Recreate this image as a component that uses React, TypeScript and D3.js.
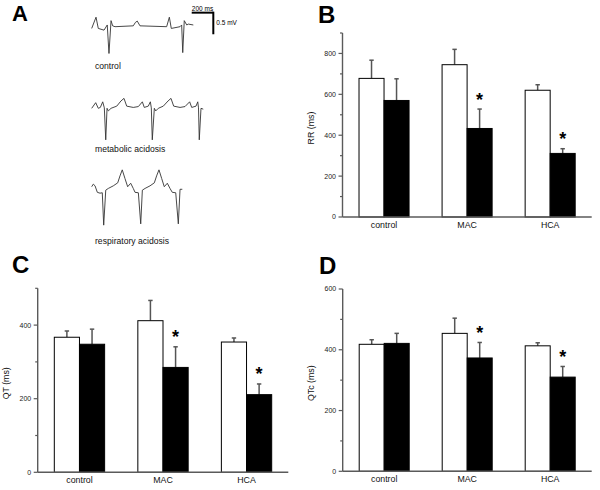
import React from "react";
import * as d3 from "d3";

// ---------- Data ----------
const categories = ["control", "MAC", "HCA"];
const conditions = ["before", "after"];

const rrBefore = [678, 745, 620];
const rrBeforeErr = [89, 75, 27];
const rrAfter = [570, 433, 311];
const rrAfterErr = [106, 95, 23];

const qtBefore = [367, 412, 354];
const qtBeforeErr = [17, 55, 11];
const qtAfter = [348, 285, 211];
const qtAfterErr = [41, 56, 29];

const qtcBefore = [418, 454, 413];
const qtcBeforeErr = [15, 50, 10];
const qtcAfter = [421, 373, 310];
const qtcAfterErr = [33, 51, 35];

const significant = [false, true, true];

const rrTicks = [0, 200, 400, 600, 800];
const qtTicks = [0, 200, 400];
const qtcTicks = [0, 200, 400, 600];

// ECG traces: [time (ms), voltage (mV)]
const controlTrace: [number, number][] = [
  [0, -0.04], [40, 0.22], [61, -0.04], [114, -0.08], [144, 0.04], [160, -0.62],
  [179, 0.14], [194, 0.02], [216, 0], [385, 0.02], [405, 0.1], [422, 0.13], [447, 0.02],
  [694, 0], [719, 0.22], [737, -0.04], [818, 0], [833, 0.04], [843, -0.6],
  [857, 0.14], [880, 0.04], [895, 0.06], [941, 0.04],
];
const metabolicTrace: [number, number][] = [
  [0, 0], [37, 0.13], [61, 0], [80, 0.02], [102, 0.15], [117, 0.01], [130, -0.73],
  [142, 0], [154, -0.06], [179, 0], [232, 0.05], [271, 0.17], [299, 0.23], [324, 0.05],
  [385, 0.02], [432, 0.04], [469, 0.15], [487, 0.02], [524, 0.05], [543, 0.15],
  [552, 0.01], [561, -0.73], [580, 0], [593, -0.06], [617, 0], [663, 0.05], [707, 0.17],
  [734, 0.23], [759, 0.05], [818, 0.02], [864, 0.04], [907, 0.15], [926, 0.02],
  [966, 0.05], [982, 0.15], [989, 0.01], [996, -0.73], [1012, 0], [1033, -0.02],
];
const respiratoryTrace: [number, number][] = [
  [0, 0.03], [15, 0.09], [31, 0.05], [52, -0.1], [77, -0.12], [98, -0.11], [111, -0.86],
  [130, -0.05], [154, -0.01], [200, 0.05], [241, 0.12], [262, 0.28], [283, 0.42],
  [308, 0.22], [333, 0.03], [361, 0.11], [385, -0.01], [401, -0.1], [432, -0.11],
  [454, -0.83], [469, -0.05], [494, -0.01], [540, 0.05], [580, 0.12], [601, 0.28],
  [623, 0.42], [648, 0.22], [672, 0.03], [700, 0.11], [725, -0.01], [746, -0.1],
  [778, -0.11], [802, -0.83], [818, -0.03], [839, -0.03],
];
const traceLabels = ["control", "metabolic acidosis", "respiratory acidosis"];
const scaleBarMs = 200;
const scaleBarMv = 0.5;

// ---------- Layout ----------
const FONT = "'Liberation Sans', Arial, Helvetica, sans-serif";
const AXIS_COLOR = "#5a5a5a";
const ERR_COLOR = "#555";

type PanelDef = {
  letter: string;
  letterX: number;
  letterY: number;
  x0: number;
  x1: number;
  yTop: number;
  yBottom: number;
  max: number;
  ticks: number[];
  label: string;
  before: number[];
  beforeErr: number[];
  after: number[];
  afterErr: number[];
};

const panels: PanelDef[] = [
  {
    letter: "B", letterX: 318, letterY: 23, x0: 342.5, x1: 591.7, yTop: 33, yBottom: 217,
    max: 900, ticks: rrTicks, label: "RR (ms)",
    before: rrBefore, beforeErr: rrBeforeErr, after: rrAfter, afterErr: rrAfterErr,
  },
  {
    letter: "C", letterX: 12, letterY: 273, x0: 37.7, x1: 288.3, yTop: 288.3, yBottom: 472.3,
    max: 500, ticks: qtTicks, label: "QT (ms)",
    before: qtBefore, beforeErr: qtBeforeErr, after: qtAfter, afterErr: qtAfterErr,
  },
  {
    letter: "D", letterX: 319, letterY: 274, x0: 342.7, x1: 591.7, yTop: 289, yBottom: 471.3,
    max: 600, ticks: qtcTicks, label: "QTc (ms)",
    before: qtcBefore, beforeErr: qtcBeforeErr, after: qtcAfter, afterErr: qtcAfterErr,
  },
];

function BarPanel({ p }: { p: PanelDef }) {
  const x = d3.scaleBand<string>().domain(categories).range([p.x0, p.x1]).padding(0);
  const xi = d3
    .scaleBand<string>()
    .domain(conditions)
    .range([0, x.bandwidth()])
    .paddingInner(0)
    .paddingOuter(0.66);
  const y = d3.scaleLinear().domain([0, p.max]).range([p.yBottom, p.yTop]);
  const minor = d3.range(100, p.max + 1, 200);
  const bw = xi.bandwidth();

  const series = [
    { key: "before", vals: p.before, errs: p.beforeErr, fill: "#fff" },
    { key: "after", vals: p.after, errs: p.afterErr, fill: "#000" },
  ];

  return (
    <g>
      <text x={p.letterX} y={p.letterY} fontFamily={FONT} fontWeight="bold" fontSize={24}>
        {p.letter}
      </text>
      {series.map((s) =>
        categories.map((c, i) => {
          const bx = (x(c) as number) + (xi(s.key) as number);
          const top = y(s.vals[i]);
          const errTop = y(s.vals[i] + s.errs[i]);
          const cx = bx + bw / 2;
          return (
            <g key={s.key + c}>
              <line x1={cx} x2={cx} y1={top} y2={errTop} stroke={ERR_COLOR} strokeWidth={1.5} />
              <line x1={cx - 2.2} x2={cx + 2.2} y1={errTop} y2={errTop} stroke={ERR_COLOR} strokeWidth={1.5} />
              <rect x={bx} y={top} width={bw} height={p.yBottom - top} fill={s.fill} stroke="#000" strokeWidth={1} />
              {s.key === "after" && significant[i] ? (
                <text x={cx} y={errTop - 3.5} textAnchor="middle" fontFamily={FONT} fontWeight="bold" fontSize={18}>
                  *
                </text>
              ) : null}
            </g>
          );
        })
      )}
      {/* axes */}
      <line x1={p.x0} x2={p.x0} y1={p.yTop} y2={p.yBottom} stroke={AXIS_COLOR} strokeWidth={1.4} />
      <line x1={p.x0} x2={p.x1} y1={p.yBottom} y2={p.yBottom} stroke={AXIS_COLOR} strokeWidth={1.4} />
      {p.ticks.map((t) => (
        <g key={"t" + t}>
          <line x1={p.x0 - 4} x2={p.x0} y1={y(t)} y2={y(t)} stroke={AXIS_COLOR} strokeWidth={1.2} />
          <text x={p.x0 - 6.5} y={y(t)} dy="0.35em" textAnchor="end" fontFamily={FONT} fontSize={7} fill="#222">
            {t}
          </text>
        </g>
      ))}
      {minor.map((t) => (
        <line key={"m" + t} x1={p.x0 - 2.5} x2={p.x0} y1={y(t)} y2={y(t)} stroke={AXIS_COLOR} strokeWidth={1.2} />
      ))}
      {categories.map((c) => (
        <text
          key={"c" + c}
          x={(x(c) as number) + x.bandwidth() / 2}
          y={p.yBottom + 11}
          textAnchor="middle"
          fontFamily={FONT}
          fontSize={8.8}
          fill="#111"
        >
          {c}
        </text>
      ))}
      <text
        transform={`translate(${p.x0 - 32},${(p.yTop + p.yBottom) / 2 + 3}) rotate(-90)`}
        textAnchor="middle"
        dy="0.35em"
        fontFamily={FONT}
        fontSize={8.8}
        fill="#111"
      >
        {p.label}
      </text>
    </g>
  );
}

function EcgPanel() {
  const tx = d3.scaleLinear().domain([0, 200]).range([91.7, 113.3]);
  const traces = [
    { data: controlTrace, base: 26.7, labelY: 68.5 },
    { data: metabolicTrace, base: 108.3, labelY: 151.5 },
    { data: respiratoryTrace, base: 188, labelY: 243.5 },
  ];
  const barT0 = 926;
  const barY = d3.scaleLinear().domain([0, 0.5]).range([26.7, 26.7 - 21.6]);
  return (
    <g>
      <text x={12} y={21} fontFamily={FONT} fontWeight="bold" fontSize={22}>
        A
      </text>
      {traces.map((tr, i) => {
        const vy = d3.scaleLinear().domain([0, 0.5]).range([tr.base, tr.base - 21.6]);
        const line = d3
          .line<[number, number]>()
          .x((d) => tx(d[0]))
          .y((d) => vy(d[1]))
          .curve(d3.curveLinear);
        return (
          <g key={i}>
            <path d={line(tr.data) || ""} fill="none" stroke="#333" strokeWidth={0.9} />
            <text x={95} y={tr.labelY} fontFamily={FONT} fontSize={8.6} fill="#111">
              {traceLabels[i]}
            </text>
          </g>
        );
      })}
      {/* scale bar */}
      <line
        x1={tx(barT0)}
        x2={tx(barT0 + scaleBarMs)}
        y1={barY(0.325)}
        y2={barY(0.325)}
        stroke="#000"
        strokeWidth={2}
      />
      <line
        x1={tx(barT0 + scaleBarMs)}
        x2={tx(barT0 + scaleBarMs)}
        y1={barY(0.325) - 1}
        y2={barY(0.325 - scaleBarMv)}
        stroke="#000"
        strokeWidth={2}
      />
      <text x={tx(barT0 + scaleBarMs / 2)} y={barY(0.325) - 2} textAnchor="middle" fontFamily={FONT} fontSize={6.5}>
        {scaleBarMs} ms
      </text>
      <text x={tx(barT0 + scaleBarMs) + 3} y={barY(0.325 - scaleBarMv / 2) + 2} fontFamily={FONT} fontSize={6.5}>
        {scaleBarMv} mV
      </text>
    </g>
  );
}

export default function App() {
  return (
    <svg
      width={600}
      height={490}
      viewBox="0 0 600 490"
      style={{ position: "absolute", left: 0, top: 0, background: "#fff" }}
    >
      <rect width={600} height={490} fill="#fff" />
      <EcgPanel />
      {panels.map((p) => (
        <BarPanel key={p.letter} p={p} />
      ))}
    </svg>
  );
}
